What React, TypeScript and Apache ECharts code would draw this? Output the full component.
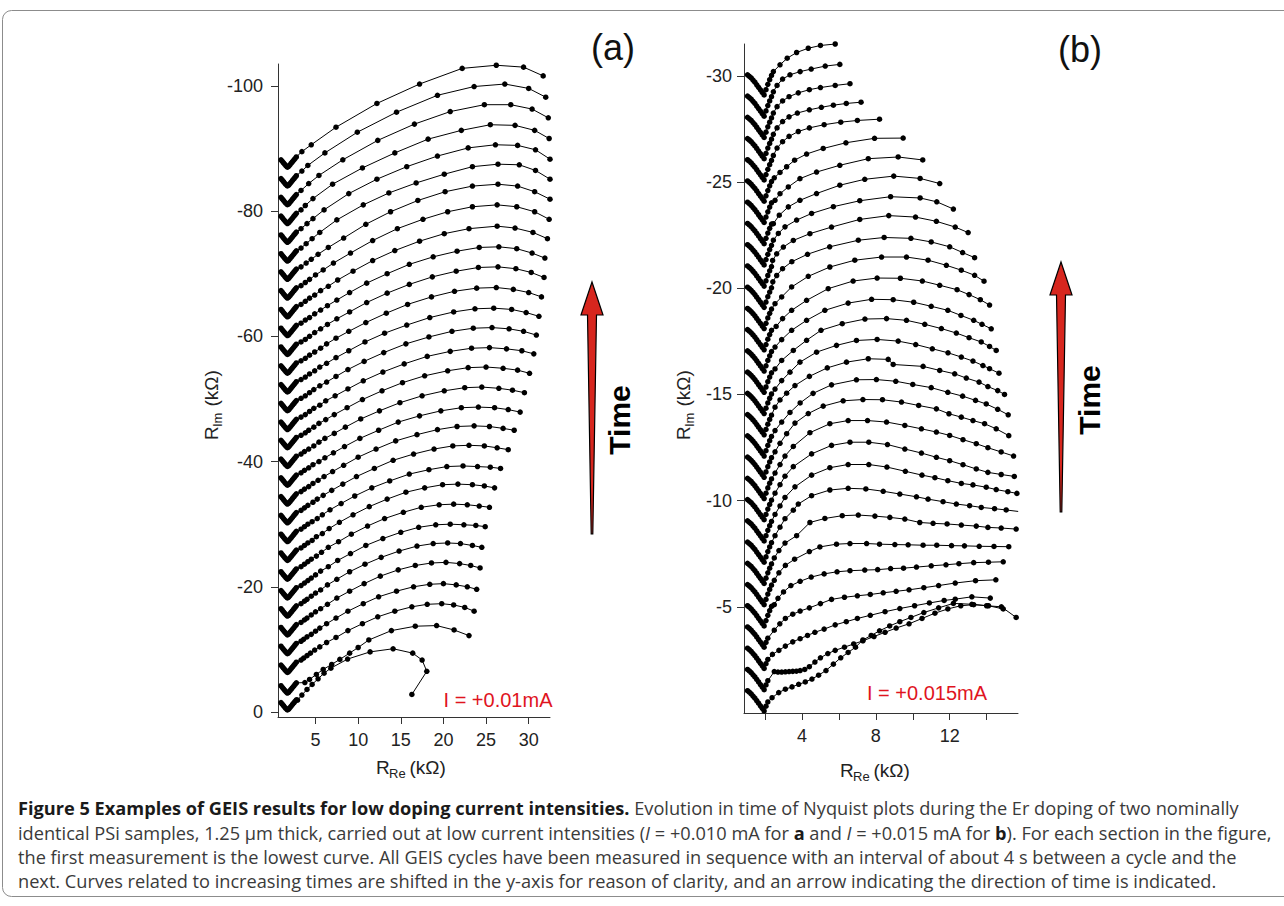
import React, { useEffect, useRef } from "react";
import * as echarts from "echarts";

// ---------------- Panel (a): I = +0.01 mA ----------------
// shared low-x "V" cluster (x, dy relative to the curve's shift)
const vAx = [0.95, 1.1, 1.25, 1.4, 1.55, 1.7, 1.85, 2.0, 2.15, 2.3, 2.45, 2.6, 2.75];
const vAdy = [-1.2, -0.95, -0.7, -0.45, -0.22, -0.02, -0.15, -0.4, -0.65, -0.9, -1.15, -1.4, -1.65];
// y-shift of each curve (top curve first, lowest curve last)
const shiftA = [-87.0, -84.0, -81.0, -78.0, -75.0, -72.0, -69.1, -66.1, -63.1, -60.1, -57.1, -54.1, -51.1, -48.1, -45.1,
  -42.2, -39.2, -36.2, -33.2, -30.2, -27.2, -24.2, -21.2, -18.2, -15.3, -12.3, -9.3, -6.3, -3.0, -0.3];
// arcs: [x, dy]
const a00 = [[3.4,-2.5],[4.5,-3.6],[7.4,-6.4],[12.2,-10.2],[17.2,-13.3],[22.2,-15.8],[26.2,-16.3],[29.4,-16.0],[31.7,-14.6]];
const a01 = [[3.4,-2.4],[4.1,-3.3],[6.1,-5.3],[9.9,-8.6],[14.5,-11.8],[19.3,-14.5],[23.6,-15.9],[27.2,-16.3],[30.0,-15.6],[32.0,-14.2]];
const a02 = [[3.3,-2.3],[4.2,-3.4],[5.4,-4.7],[8.2,-7.2],[12.3,-10.3],[16.6,-12.9],[20.8,-14.9],[24.8,-16.0],[27.9,-16.0],[30.4,-15.3],[32.3,-13.9]];
const a03 = [[3.3,-2.2],[3.8,-2.9],[4.7,-4.0],[7.0,-6.3],[10.5,-8.9],[14.3,-11.3],[18.2,-13.5],[22.1,-14.9],[25.5,-15.8],[28.4,-15.7],[30.7,-14.9],[32.4,-13.6]];
const a04 = [[3.3,-2.2],[4.0,-3.0],[4.7,-3.8],[6.0,-5.2],[8.9,-7.8],[12.2,-10.1],[15.7,-12.1],[19.3,-13.8],[22.9,-15.1],[26.1,-15.6],[28.7,-15.5],[30.8,-14.8],[32.5,-13.3]];
const a05 = [[3.3,-2.1],[3.9,-2.8],[4.6,-3.6],[5.5,-4.6],[7.5,-6.6],[10.6,-9.0],[13.6,-10.9],[16.8,-12.5],[20.1,-13.9],[23.4,-15.1],[26.4,-15.5],[28.9,-15.4],[30.8,-14.5],[32.5,-13.1]];
const a06 = [[3.3,-2.0],[3.9,-2.6],[4.5,-3.2],[5.3,-4.0],[6.5,-5.1],[8.3,-6.6],[10.9,-8.8],[13.8,-10.8],[17.0,-12.6],[20.2,-14.0],[23.4,-14.9],[26.4,-15.2],[28.7,-14.9],[30.7,-14.0],[32.5,-12.8]];
const a07 = [[3.3,-2.0],[3.8,-2.5],[4.3,-3.0],[5.0,-3.7],[5.9,-4.5],[7.1,-5.6],[9.1,-7.2],[11.7,-9.2],[14.6,-11.1],[17.6,-12.6],[20.5,-13.8],[23.4,-14.6],[26.3,-14.9],[28.6,-14.6],[30.7,-13.8],[32.4,-12.6]];
const a08 = [[3.3,-2.0],[3.8,-2.5],[4.3,-3.0],[4.9,-3.5],[5.6,-4.2],[6.5,-4.9],[7.6,-5.9],[9.4,-7.3],[11.7,-9.0],[14.3,-10.6],[17.2,-12.1],[20.1,-13.3],[23.0,-14.1],[26.3,-14.5],[28.4,-14.2],[30.5,-13.5],[32.2,-12.5]];
const a09 = [[3.3,-2.0],[3.8,-2.5],[4.3,-2.9],[4.9,-3.5],[5.6,-4.1],[6.4,-4.8],[7.5,-5.7],[9.0,-6.9],[11.0,-8.4],[13.4,-9.9],[16.0,-11.4],[18.8,-12.6],[21.6,-13.5],[24.2,-14.1],[26.5,-14.2],[28.6,-13.9],[30.4,-13.2],[31.9,-12.4]];
const a10 = [[3.3,-2.0],[3.8,-2.4],[4.3,-2.9],[4.9,-3.5],[5.6,-4.1],[6.4,-4.8],[7.5,-5.7],[9.0,-6.8],[11.0,-8.3],[13.4,-9.8],[16.0,-11.2],[18.7,-12.4],[21.5,-13.3],[24.1,-13.9],[26.4,-14.0],[28.5,-13.7],[30.3,-13.1],[31.8,-12.3]];
const a11 = [[3.3,-2.0],[3.8,-2.4],[4.3,-2.9],[4.9,-3.4],[5.6,-4.0],[6.3,-4.7],[7.4,-5.6],[8.9,-6.7],[10.9,-8.1],[13.3,-9.6],[15.8,-11.0],[18.6,-12.2],[21.3,-13.1],[23.9,-13.6],[26.2,-13.7],[28.2,-13.4],[30.0,-12.9],[31.5,-12.2]];
const a12 = [[3.3,-2.0],[3.8,-2.4],[4.3,-2.9],[4.9,-3.4],[5.5,-4.0],[6.3,-4.6],[7.4,-5.5],[8.9,-6.6],[10.8,-8.0],[13.1,-9.4],[15.7,-10.7],[18.4,-11.9],[21.2,-12.8],[23.7,-13.3],[25.9,-13.4],[28.0,-13.2],[29.7,-12.7],[31.2,-12.1]];
const a13 = [[3.3,-2.0],[3.8,-2.4],[4.3,-2.9],[4.8,-3.4],[5.5,-4.0],[6.3,-4.6],[7.4,-5.5],[8.8,-6.6],[10.7,-7.9],[13.0,-9.3],[15.6,-10.7],[18.3,-11.8],[21.0,-12.7],[23.5,-13.2],[25.7,-13.3],[27.7,-13.1],[29.4,-12.7],[30.9,-12.1]];
const a14 = [[3.3,-2.0],[3.8,-2.4],[4.3,-2.9],[4.8,-3.4],[5.5,-3.9],[6.2,-4.6],[7.3,-5.4],[8.8,-6.5],[10.6,-7.8],[12.9,-9.2],[15.4,-10.5],[18.1,-11.7],[20.8,-12.5],[23.3,-13.0],[25.4,-13.1],[27.4,-12.9],[29.2,-12.6],[30.6,-12.1]];
const a15 = [[3.3,-2.0],[3.8,-2.4],[4.2,-2.8],[4.8,-3.3],[5.4,-3.9],[6.2,-4.5],[7.2,-5.3],[8.7,-6.4],[10.5,-7.7],[12.8,-9.1],[15.2,-10.4],[17.8,-11.5],[20.5,-12.3],[22.9,-12.8],[25.0,-12.9],[27.0,-12.7],[28.7,-12.4],[30.1,-11.9]];
const a16 = [[3.3,-2.0],[3.7,-2.4],[4.2,-2.8],[4.8,-3.3],[5.4,-3.9],[6.1,-4.5],[7.2,-5.3],[8.5,-6.3],[10.3,-7.6],[12.5,-8.9],[14.9,-10.2],[17.5,-11.3],[20.1,-12.1],[22.5,-12.6],[24.5,-12.7],[26.5,-12.5],[28.1,-12.2],[29.5,-11.8]];
const a17 = [[3.3,-2.0],[3.7,-2.4],[4.2,-2.8],[4.7,-3.3],[5.4,-3.8],[6.1,-4.4],[7.1,-5.2],[8.4,-6.2],[10.2,-7.5],[12.4,-8.8],[14.7,-10.1],[17.2,-11.1],[19.7,-11.9],[22.1,-12.4],[24.1,-12.5],[26.0,-12.4],[27.6,-12.1],[29.0,-11.7]];
const a18 = [[3.3,-2.0],[3.7,-2.4],[4.2,-2.8],[4.7,-3.3],[5.3,-3.8],[6.0,-4.4],[7.0,-5.2],[8.3,-6.2],[10.0,-7.5],[12.1,-8.8],[14.4,-10.1],[16.9,-11.1],[19.3,-11.9],[21.6,-12.4],[23.6,-12.5],[25.4,-12.4],[27.0,-12.1],[28.3,-11.8]];
const a19 = [[3.3,-2.0],[3.7,-2.4],[4.1,-2.8],[4.7,-3.3],[5.2,-3.8],[5.9,-4.4],[6.9,-5.2],[8.2,-6.2],[9.8,-7.4],[11.9,-8.7],[14.1,-10.0],[16.5,-11.0],[18.9,-11.8],[21.1,-12.3],[23.0,-12.4],[24.8,-12.3],[26.3,-12.0],[27.6,-11.7]];
const a20 = [[3.3,-2.0],[3.7,-2.4],[4.1,-2.8],[4.6,-3.2],[5.2,-3.7],[5.8,-4.3],[6.7,-5.1],[8.0,-6.1],[9.6,-7.3],[11.6,-8.6],[13.7,-9.7],[16.0,-10.8],[18.3,-11.5],[20.4,-12.0],[22.3,-12.1],[24.0,-12.0],[25.5,-11.9],[26.7,-11.7]];
const a21 = [[3.3,-2.0],[3.7,-2.4],[4.1,-2.8],[4.6,-3.2],[5.1,-3.8],[5.8,-4.3],[6.6,-5.1],[7.8,-6.1],[9.4,-7.3],[11.3,-8.6],[13.4,-9.8],[15.6,-10.9],[17.8,-11.6],[19.9,-12.1],[21.7,-12.2],[23.4,-12.1],[24.8,-11.9],[26.0,-11.6]];
const a22 = [[3.3,-2.0],[3.7,-2.4],[4.1,-2.8],[4.5,-3.2],[5.1,-3.7],[5.7,-4.3],[6.5,-5.1],[7.7,-6.0],[9.2,-7.2],[11.1,-8.5],[13.1,-9.7],[15.3,-10.7],[17.4,-11.5],[19.5,-11.9],[21.2,-12.0],[22.8,-11.9],[24.2,-11.7],[25.4,-11.5]];
const a23 = [[3.3,-2.0],[3.7,-2.4],[4.1,-2.8],[4.5,-3.2],[5.0,-3.7],[5.6,-4.3],[6.5,-5.0],[7.6,-6.0],[9.1,-7.1],[10.9,-8.4],[12.9,-9.5],[15.0,-10.5],[17.1,-11.3],[19.1,-11.7],[20.8,-11.8],[22.4,-11.7],[23.8,-11.6],[24.9,-11.4]];
const a24 = [[3.3,-2.0],[3.7,-2.4],[4.0,-2.7],[4.5,-3.2],[5.0,-3.7],[5.6,-4.2],[6.4,-5.0],[7.5,-5.9],[9.0,-7.1],[10.8,-8.3],[12.7,-9.4],[14.8,-10.4],[16.9,-11.2],[18.8,-11.6],[20.5,-11.7],[22.0,-11.6],[23.4,-11.3],[24.5,-11.0]];
const a25 = [[3.3,-2.0],[3.7,-2.4],[4.0,-2.7],[4.5,-3.2],[5.0,-3.7],[5.6,-4.2],[6.4,-4.9],[7.5,-5.9],[9.0,-7.0],[10.7,-8.2],[12.6,-9.4],[14.7,-10.4],[16.7,-11.1],[18.6,-11.5],[20.3,-11.6],[21.9,-11.4],[23.2,-11.1],[24.3,-10.7]];
const a26 = [[3.3,-2.0],[3.6,-2.3],[4.0,-2.7],[4.5,-3.1],[5.0,-3.6],[5.5,-4.1],[6.3,-4.8],[7.4,-5.7],[8.8,-6.8],[10.6,-8.0],[12.4,-9.1],[14.5,-10.0],[16.5,-10.7],[18.4,-11.1],[20.0,-11.2],[21.5,-11.0],[22.8,-10.7],[23.9,-10.3]];
const a27 = [[3.3,-2.0],[3.6,-2.3],[4.0,-2.7],[4.4,-3.1],[4.9,-3.6],[5.5,-4.1],[6.3,-4.8],[7.4,-5.6],[8.8,-6.7],[10.5,-7.8],[12.3,-8.9],[14.3,-9.8],[16.3,-10.5],[18.1,-10.9],[19.8,-11.0],[21.2,-10.8],[22.5,-10.4],[23.6,-9.8]];
const a28 = [[3.75,-1.7],[4.3,-2.2],[5.1,-3.0],[5.9,-3.8],[6.9,-4.6],[7.85,-5.4],[9.0,-6.4],[10.0,-7.3],[11.25,-8.5],[13.9,-10.0],[16.7,-10.7],[19.2,-10.8],[21.25,-10.1],[23.0,-9.2]];
const a29 = [[2.9,-1.6],[3.4,-2.4],[4.0,-3.3],[4.6,-4.1],[5.3,-5.0],[6.0,-5.9],[6.8,-6.7],[8.76,-8.15],[11.4,-9.3],[14.1,-9.8],[16.4,-9.1],[17.5,-8.0],[18.05,-6.2],[16.3,-2.5]];
const arcsA = [a00,a01,a02,a03,a04,a05,a06,a07,a08,a09,a10,a11,a12,a13,a14,a15,a16,a17,a18,a19,a20,a21,a22,a23,a24,a25,a26,a27,a28,a29];

// ---------------- Panel (b): I = +0.015 mA ----------------
const vBx = [1.05, 1.15, 1.25, 1.35, 1.45, 1.55, 1.65, 1.75, 1.85, 1.95, 2.05, 2.15, 2.25, 2.35];
const vBdy = [-0.95, -0.88, -0.8, -0.7, -0.6, -0.48, -0.36, -0.24, -0.12, 0, -0.25, -0.5, -0.72, -0.92];
const vBlowX = [1.05, 1.15, 1.25, 1.35, 1.45, 1.55, 1.65, 1.75, 1.85, 1.95, 2.05, 2.15];
const vBlowDy = [-0.95, -0.88, -0.8, -0.7, -0.6, -0.48, -0.36, -0.24, -0.12, 0, -0.22, -0.42];
const shiftB = [-29.1, -28.1, -27.1, -26.1, -25.1, -24.1, -23.1, -22.1, -21.1, -20.1, -19.1, -18.1, -17.1, -16.1, -15.1,
  -14.1, -13.1, -12.1, -11.1, -10.1, -9.1, -8.1, -7.1, -6.1, -5.1, -4.1, -3.1, -2.1, -1.1, -0.1];
const b01 = [[2.45,-1.1],[2.81,-1.42],[3.2,-1.73],[3.71,-2.0],[4.34,-2.2],[5.0,-2.33],[5.8,-2.4]];
const b02 = [[2.45,-1.15],[2.65,-1.45],[2.95,-1.75],[3.35,-1.95],[3.9,-2.1],[4.5,-2.22],[5.26,-2.36],[6.05,-2.44]];
const b03 = [[2.45,-1.15],[2.65,-1.45],[2.95,-1.72],[3.3,-1.92],[3.8,-2.1],[4.4,-2.25],[5.0,-2.35],[5.8,-2.45],[6.6,-2.53]];
const b04 = [[2.45,-1.15],[2.65,-1.45],[2.95,-1.75],[3.3,-1.97],[3.75,-2.15],[4.4,-2.3],[5.05,-2.42],[5.7,-2.52],[6.4,-2.6],[7.2,-2.66]];
const b05 = [[2.45,-1.15],[2.65,-1.5],[2.95,-1.8],[3.3,-2.05],[3.8,-2.28],[4.4,-2.45],[5.2,-2.6],[6.1,-2.72],[7.0,-2.8],[8.2,-2.86]];
const b06 = [[2.5,-1.1],[2.81,-1.35],[3.17,-1.62],[3.6,-1.93],[4.25,-2.22],[5.15,-2.48],[6.38,-2.75],[7.93,-2.96],[9.48,-2.97]];
const b07 = [[2.54,-1.04],[2.81,-1.35],[3.26,-1.67],[3.89,-2.06],[4.79,-2.37],[6.05,-2.69],[7.59,-3.0],[9.21,-3.08],[10.54,-2.94]];
const b08 = [[2.45,-0.94],[2.77,-1.34],[3.26,-1.73],[3.89,-2.04],[4.79,-2.36],[6.05,-2.75],[7.4,-3.03],[8.97,-3.18],[10.4,-3.07],[11.46,-2.83]];
const b09 = [[2.45,-1.16],[2.72,-1.48],[3.08,-1.79],[3.71,-2.11],[4.52,-2.42],[5.7,-2.74],[7.13,-3.02],[8.8,-3.21],[10.4,-3.15],[11.3,-2.97],[12.2,-2.63]];
const b10 = [[2.41,-1.21],[2.63,-1.52],[2.99,-1.84],[3.53,-2.15],[4.43,-2.47],[5.6,-2.78],[7.13,-3.14],[8.7,-3.32],[10.15,-3.25],[11.28,-3.05],[12.3,-2.78],[13.0,-2.52]];
const b11 = [[2.42,-1.2],[2.63,-1.5],[2.95,-1.82],[3.45,-2.15],[4.3,-2.5],[5.5,-2.85],[7.05,-3.16],[8.45,-3.29],[9.9,-3.25],[11.0,-3.08],[12.0,-2.85],[12.7,-2.58],[13.35,-2.34]];
const b12 = [[2.54,-1.17],[2.9,-1.49],[3.44,-1.96],[4.34,-2.46],[5.51,-2.9],[6.86,-3.22],[8.31,-3.37],[9.66,-3.37],[10.83,-3.22],[11.82,-2.98],[12.63,-2.75],[13.35,-2.51],[13.86,-2.23]];
const b13 = [[2.6,-1.1],[2.95,-1.47],[3.44,-1.86],[4.25,-2.33],[5.42,-2.88],[6.77,-3.24],[8.07,-3.38],[9.33,-3.37],[10.52,-3.24],[11.46,-3.04],[12.4,-2.83],[13.05,-2.6],[13.66,-2.36],[14.16,-2.11]];
const b14 = [[2.54,-1.13],[2.9,-1.48],[3.44,-1.92],[4.25,-2.39],[5.24,-2.86],[6.5,-3.2],[7.77,-3.38],[8.94,-3.36],[10.05,-3.24],[11.0,-3.05],[11.9,-2.86],[12.61,-2.62],[13.3,-2.39],[13.75,-2.2],[14.25,-1.99]];
const b15 = [[2.54,-1.1],[2.9,-1.5],[3.53,-1.97],[4.25,-2.45],[5.03,-2.92],[6.18,-3.23],[7.41,-3.45],[8.58,-3.47],[9.66,-3.39],[10.65,-3.2],[11.55,-3.0],[12.36,-2.79],[13.05,-2.57],[13.71,-2.37],[14.16,-2.16],[14.52,-1.97]];
const b16 = [[2.54,-1.15],[2.9,-1.55],[3.35,-1.95],[3.89,-2.42],[4.79,-2.89],[5.87,-3.21],[6.95,-3.44],[8.07,-3.49],[9.21,-3.41],[10.16,-3.25],[11.06,-3.05],[11.91,-2.86],[12.63,-2.66],[13.26,-2.47],[13.8,-2.26],[14.16,-2.11],[14.67,-1.9]];
const b17 = [[2.54,-1.3],[2.81,-1.64],[3.17,-1.96],[3.62,-2.32],[4.4,-2.75],[5.37,-3.15],[6.41,-3.42],[7.59,-3.58],[8.67,-3.55],[8.94,-3.31],[10.56,-3.22],[11.46,-3.03],[12.27,-2.87],[12.9,-2.67],[13.59,-2.48],[14.07,-2.27],[14.6,-2.08],[14.97,-1.9]];
const b18 = [[2.54,-1.2],[2.9,-1.6],[3.35,-2.05],[3.9,-2.5],[4.6,-2.95],[5.6,-3.35],[6.95,-3.59],[8.03,-3.6],[9.08,-3.52],[10.0,-3.37],[11.0,-3.22],[11.9,-3.0],[12.7,-2.82],[13.4,-2.62],[13.98,-2.45],[14.6,-2.2],[15.17,-1.94]];
const b19 = [[2.54,-1.2],[2.81,-1.6],[3.17,-2.05],[3.62,-2.55],[4.34,-3.0],[5.15,-3.35],[6.23,-3.6],[7.3,-3.66],[8.36,-3.65],[9.39,-3.54],[10.32,-3.38],[11.28,-3.22],[11.96,-2.99],[12.63,-2.83],[13.26,-2.67],[13.89,-2.52],[14.52,-2.28],[15.2,-1.96]];
const b20 = [[2.54,-1.2],[2.81,-1.6],[3.08,-2.0],[3.53,-2.45],[4.43,-3.1],[5.51,-3.52],[6.5,-3.67],[7.55,-3.67],[8.58,-3.6],[9.57,-3.44],[10.47,-3.28],[11.28,-3.13],[12.0,-2.97],[12.72,-2.77],[13.44,-2.58],[14.07,-2.39],[14.79,-2.19],[15.46,-2.0]];
const b21 = [[2.54,-1.25],[2.81,-1.65],[3.08,-2.05],[3.53,-2.5],[4.52,-3.1],[5.6,-3.5],[6.6,-3.65],[7.62,-3.65],[8.63,-3.54],[9.57,-3.33],[10.47,-3.14],[11.28,-2.94],[12.0,-2.78],[12.72,-2.59],[13.44,-2.39],[14.07,-2.23],[14.79,-2.13],[15.5,-2.04]];
const b22 = [[2.54,-1.25],[2.81,-1.65],[3.08,-2.05],[3.62,-2.55],[4.52,-3.1],[5.51,-3.45],[6.5,-3.6],[7.62,-3.6],[8.6,-3.48],[9.6,-3.28],[10.5,-3.1],[11.2,-2.98],[11.9,-2.84],[12.63,-2.71],[13.26,-2.64],[13.98,-2.53],[14.52,-2.42],[15.15,-2.32],[15.64,-2.24]];
const b23 = [[2.54,-1.25],[2.81,-1.65],[3.08,-2.05],[3.53,-2.45],[3.8,-2.74],[4.52,-3.13],[5.51,-3.4],[6.5,-3.48],[7.46,-3.45],[8.4,-3.34],[9.3,-3.21],[10.2,-3.08],[10.83,-2.97],[11.64,-2.85],[12.36,-2.74],[13.08,-2.66],[13.71,-2.58],[14.43,-2.52],[15.06,-2.46],[15.71,-2.39]];
const b24 = [[2.5,-1.2],[2.75,-1.55],[3.08,-1.9],[3.71,-2.25],[4.43,-2.87],[5.24,-3.06],[6.18,-3.19],[7.05,-3.22],[7.95,-3.17],[8.76,-3.11],[9.57,-3.03],[10.38,-2.87],[11.1,-2.83],[11.86,-2.8],[12.63,-2.75],[13.44,-2.7],[14.07,-2.64],[14.79,-2.61],[15.6,-2.56]];
const b25 = [[2.5,-1.15],[2.75,-1.5],[3.1,-1.85],[3.6,-2.14],[4.4,-2.5],[4.97,-2.72],[5.87,-2.85],[6.6,-2.88],[7.5,-2.88],[8.2,-2.85],[9.03,-2.83],[9.75,-2.82],[10.56,-2.8],[11.3,-2.8],[12.1,-2.78],[12.8,-2.77],[13.6,-2.75],[14.4,-2.74],[15.2,-2.73]];
const b26 = [[2.5,-1.0],[2.7,-1.3],[3.0,-1.6],[3.4,-1.9],[3.9,-2.1],[4.5,-2.3],[5.2,-2.45],[5.9,-2.55],[6.6,-2.6],[7.4,-2.63],[8.1,-2.65],[8.8,-2.7],[9.5,-2.72],[10.2,-2.77],[11.0,-2.83],[11.8,-2.88],[12.5,-2.93],[13.3,-2.98],[14.1,-3.0],[14.9,-3.02]];
const b27 = [[2.5,-0.8],[2.8,-1.1],[3.1,-1.35],[3.5,-1.55],[3.9,-1.7],[4.4,-1.85],[5.0,-2.05],[5.6,-2.25],[6.3,-2.35],[7.0,-2.42],[7.7,-2.48],[8.4,-2.56],[9.1,-2.63],[9.8,-2.7],[10.6,-2.8],[11.4,-2.9],[12.3,-3.02],[13.4,-3.13],[14.5,-3.17]];
const b28 = [[2.4,-0.66],[2.75,-0.85],[3.1,-1.05],[3.5,-1.25],[3.9,-1.4],[4.3,-1.55],[4.7,-1.7],[5.2,-1.85],[5.8,-2.05],[6.4,-2.2],[7.0,-2.35],[7.7,-2.5],[8.5,-2.67],[9.3,-2.82],[10.1,-2.95],[10.9,-3.08],[11.7,-3.2],[12.3,-3.26],[13.2,-3.37],[14.2,-3.31]];
const b29 = [[2.5,-0.85],[2.7,-0.83],[2.9,-0.83],[3.1,-0.84],[3.3,-0.85],[3.5,-0.86],[3.7,-0.87],[3.9,-0.9],[4.15,-0.95],[4.4,-1.08],[4.7,-1.3],[5.0,-1.5],[5.4,-1.7],[5.8,-1.85],[6.3,-2.0],[6.8,-2.15],[7.3,-2.3],[7.9,-2.5],[8.5,-2.7],[9.1,-2.9],[9.8,-3.1],[10.5,-3.35],[11.2,-3.6],[11.9,-3.8],[12.6,-3.95],[13.3,-4.0],[14.1,-3.95],[14.9,-3.8]];
const b30 = [[2.38,-0.62],[2.74,-0.86],[3.1,-1.02],[3.46,-1.13],[3.82,-1.25],[4.18,-1.36],[4.54,-1.5],[4.9,-1.68],[5.3,-1.9],[5.7,-2.2],[6.1,-2.5],[6.5,-2.75],[6.9,-3.0],[7.3,-3.34],[7.75,-3.55],[8.2,-3.77],[8.75,-4.0],[9.3,-4.2],[9.9,-4.4],[10.6,-4.63],[11.4,-4.85],[12.2,-5.06],[13.2,-5.02],[14.0,-4.95],[14.8,-4.9],[15.6,-4.4]];
const arcsB = [b01,b02,b03,b04,b05,b06,b07,b08,b09,b10,b11,b12,b13,b14,b15,b16,b17,b18,b19,b20,b21,b22,b23,b24,b25,b26,b27,b28,b29,b30];

// tick values
const xTicksA = [5, 10, 15, 20, 25, 30];
const yTicksA = [0, -20, -40, -60, -80, -100];
const xTicksB = [2, 4, 6, 8, 10, 12, 14];
const xLabelsB = [4, 8, 12];
const yTicksB = [-5, -10, -15, -20, -25, -30];

const AX = "Liberation Sans, Arial, Helvetica, sans-serif";
const CAP = "Open Sans, Noto Sans, sans-serif";
const CAP_FS = 18.2;

function curve(shift: number, vx: number[], vdy: number[], arc: number[][], gi: number) {
  const data: number[][] = vx.map((x, i) => [x, +(shift + vdy[i]).toFixed(3)]);
  arc.forEach(([x, dy]) => data.push([x, +(shift + dy).toFixed(3)]));
  return {
    type: "line",
    xAxisIndex: gi,
    yAxisIndex: gi,
    data,
    symbol: "circle",
    symbolSize: 5.5,
    showSymbol: true,
    showAllSymbol: true,
    silent: true,
    lineStyle: { color: "#000", width: 1 },
    itemStyle: { color: "#000" },
    emphasis: { disabled: true },
    z: 3,
  };
}

function axisTitle(x: number, y: number, main: string, sub: string, rotate: boolean) {
  const fs = 19;
  const children = [
    { type: "text", x: 0, y: 0, style: { text: main, fontSize: fs, fontFamily: AX, fill: "#222", textAlign: "left", textVerticalAlign: "middle", align: "left", verticalAlign: "middle" } },
    { type: "text", x: 13, y: 6, style: { text: sub, fontSize: 13, fontFamily: AX, fill: "#222", textAlign: "left", textVerticalAlign: "middle", align: "left", verticalAlign: "middle" } },
    { type: "text", x: 13 + sub.length * 6.6 + 2, y: 0, style: { text: " (kΩ)", fontSize: fs, fontFamily: AX, fill: "#222", textAlign: "left", textVerticalAlign: "middle", align: "left", verticalAlign: "middle" } },
  ];
  return { type: "group", x, y, rotation: rotate ? Math.PI / 2 : 0, children, z: 10 };
}

function arrow(cx: number, tip: number, base: number, bottom: number) {
  return {
    type: "polygon",
    shape: {
      points: [[cx, tip], [cx + 11, base], [cx + 4.5, base], [cx + 0.8, bottom], [cx - 0.8, bottom], [cx - 4.5, base], [cx - 11, base]],
    },
    style: { fill: "#d7261e", stroke: "#000", lineWidth: 1.2 },
    z: 10,
  };
}

function txt(x: number, y: number, text: string, fs: number, fill: string, extra: any = {}) {
  return {
    type: "text", x, y, z: 10,
    style: { text, fontSize: fs, fontFamily: AX, fill, textAlign: "center", textVerticalAlign: "middle", align: "center", verticalAlign: "middle", ...extra },
  };
}

const capRich = {
  b: { fontFamily: CAP, fontSize: CAP_FS, fontWeight: "bold", fill: "#1a1a1a", color: "#1a1a1a" },
  n: { fontFamily: CAP, fontSize: CAP_FS, fill: "#3a3a3a", color: "#3a3a3a" },
  i: { fontFamily: CAP, fontSize: CAP_FS, fontStyle: "italic", fill: "#3a3a3a", color: "#3a3a3a" },
};
const capLines = [
  "{b|Figure 5 Examples of GEIS results for low doping current intensities.}{n| Evolution in time of Nyquist plots during the Er doping of two nominally}",
  "{n|identical PSi samples, 1.25 μm thick, carried out at low current intensities (}{i|I}{n| = +0.010 mA for }{b|a}{n| and }{i|I}{n| = +0.015 mA for }{b|b}{n|). For each section in the figure,}",
  "{n|the first measurement is the lowest curve. All GEIS cycles have been measured in sequence with an interval of about 4 s between a cycle and the}",
  "{n|next. Curves related to increasing times are shifted in the y-axis for reason of clarity, and an arrow indicating the direction of time is indicated.}",
];
const capY = [808, 833, 857, 881];

function axisCommon(ticks: number[], labels: number[], fs: number, margin: number) {
  return {
    axisLine: { show: true, onZero: false, lineStyle: { color: "#333", width: 1 } },
    axisTick: { show: true, inside: false, length: 7, customValues: ticks, lineStyle: { color: "#333", width: 1 } },
    axisLabel: { show: true, customValues: labels, fontSize: fs, fontFamily: AX, color: "#222", margin },
    splitLine: { show: false },
  };
}

export default function App() {
  const ref = useRef<HTMLDivElement>(null);
  useEffect(() => {
    if (!ref.current) return;
    const chart = echarts.init(ref.current, undefined, { renderer: "svg" });
    const series: any[] = [];
    arcsA.forEach((arc, k) => series.push(curve(shiftA[k], vAx, vAdy, arc, 0)));
    arcsB.forEach((arc, k) => {
      const low = k >= 26;
      series.push(curve(shiftB[k], low ? vBlowX : vBx, low ? vBlowDy : vBdy, arc, 1));
    });
    const graphic: any[] = [
      { type: "rect", shape: { x: 2.5, y: 10.5, width: 1300, height: 886, r: 9 }, style: { fill: "none", stroke: "#8c8c8c", lineWidth: 1 }, z: 1 },
      txt(613, 47, "(a)", 36, "#111"),
      txt(1080, 49, "(b)", 36, "#111"),
      txt(498, 700, "I = +0.01mA", 20, "#e0141e"),
      txt(927, 693, "I = +0.015mA", 20, "#e0141e"),
      arrow(592, 282, 315, 534),
      arrow(1061, 262, 295, 512),
      { ...txt(619, 420, "Time", 30, "#000", { fontWeight: "bold" }), rotation: Math.PI / 2 },
      { ...txt(1089, 400, "Time", 30, "#000", { fontWeight: "bold" }), rotation: Math.PI / 2 },
      axisTitle(211, 440, "R", "Im", true),
      axisTitle(683, 440, "R", "Im", true),
      axisTitle(376, 767, "R", "Re", false),
      axisTitle(840, 770, "R", "Re", false),
    ];
    capLines.forEach((t, i) => {
      graphic.push({
        type: "text", x: 18, y: capY[i], z: 10,
        style: { text: t, rich: capRich, fontFamily: CAP, fontSize: CAP_FS, fill: "#3a3a3a", textAlign: "left", textVerticalAlign: "middle", align: "left", verticalAlign: "middle" },
      });
    });
    chart.setOption({
      animation: false,
      backgroundColor: "#fff",
      grid: [
        { left: 278, top: 64, width: 272, height: 653, containLabel: false },
        { left: 744, top: 44, width: 274, height: 669, containLabel: false },
      ],
      xAxis: [
        { type: "value", gridIndex: 0, min: 0.6, max: 32.5, ...axisCommon(xTicksA, xTicksA, 18, 14) },
        { type: "value", gridIndex: 1, min: 0.86, max: 15.7, ...axisCommon(xTicksB, xLabelsB, 18, 14) },
      ],
      yAxis: [
        { type: "value", gridIndex: 0, inverse: true, min: -103.5, max: 0.8, ...axisCommon(yTicksA, yTicksA, 18, 15) },
        { type: "value", gridIndex: 1, inverse: true, min: -31.5, max: 0, ...axisCommon(yTicksB, yTicksB, 18, 12) },
      ],
      series,
      graphic,
    });
    return () => chart.dispose();
  }, []);
  return <div ref={ref} style={{ position: "fixed", left: 0, top: 0, width: 1284, height: 906, background: "#fff" }} />;
}
